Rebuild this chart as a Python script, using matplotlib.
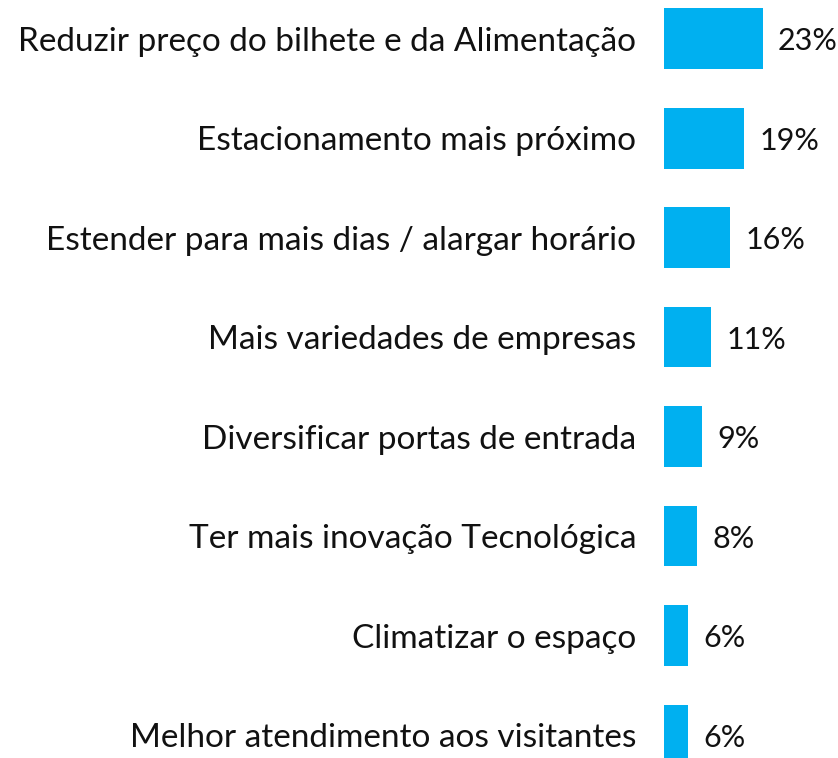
import matplotlib
matplotlib.use("Agg")
import matplotlib.pyplot as plt

categories = [
    "Reduzir preço do bilhete e da Alimentação",
    "Estacionamento mais próximo",
    "Estender para mais dias / alargar horário",
    "Mais variedades de empresas",
    "Diversificar portas de entrada",
    "Ter mais inovação Tecnológica",
    "Climatizar o espaço",
    "Melhor atendimento aos visitantes",
]
values = [23.2, 18.8, 15.5, 11.1, 8.9, 7.8, 5.6, 5.6]

plt.rcParams["font.family"] = ["Lato", "DejaVu Sans"]

fig = plt.figure(figsize=(8.38, 7.58), dpi=100)
ax = fig.add_axes([664 / 838, 0, (838 - 664) / 838, 1])

pos = list(range(len(categories)))
bars = ax.barh(pos, values, height=0.61, color="#00B0F0")

ax.set_xlim(0, (838 - 664) / 4.25)
ax.set_ylim(7 + (758 - 735) / 99.5, -38.7 / 99.5)

ax.set_yticks(pos)
ax.set_yticklabels(categories, fontsize=24, color="#111111")
ax.tick_params(axis="y", length=0, pad=20)
ax.set_xticks([])
for s in ax.spines.values():
    s.set_visible(False)

# value labels to the right of each bar
for b, v in zip(bars, values):
    ax.annotate(f"{v:.0f}%", (b.get_width(), b.get_y() + b.get_height() / 2),
                xytext=(11, -2), textcoords="offset points",
                va="center", ha="left", fontsize=22, color="#111111")

fig.savefig("out.png", dpi=100)
